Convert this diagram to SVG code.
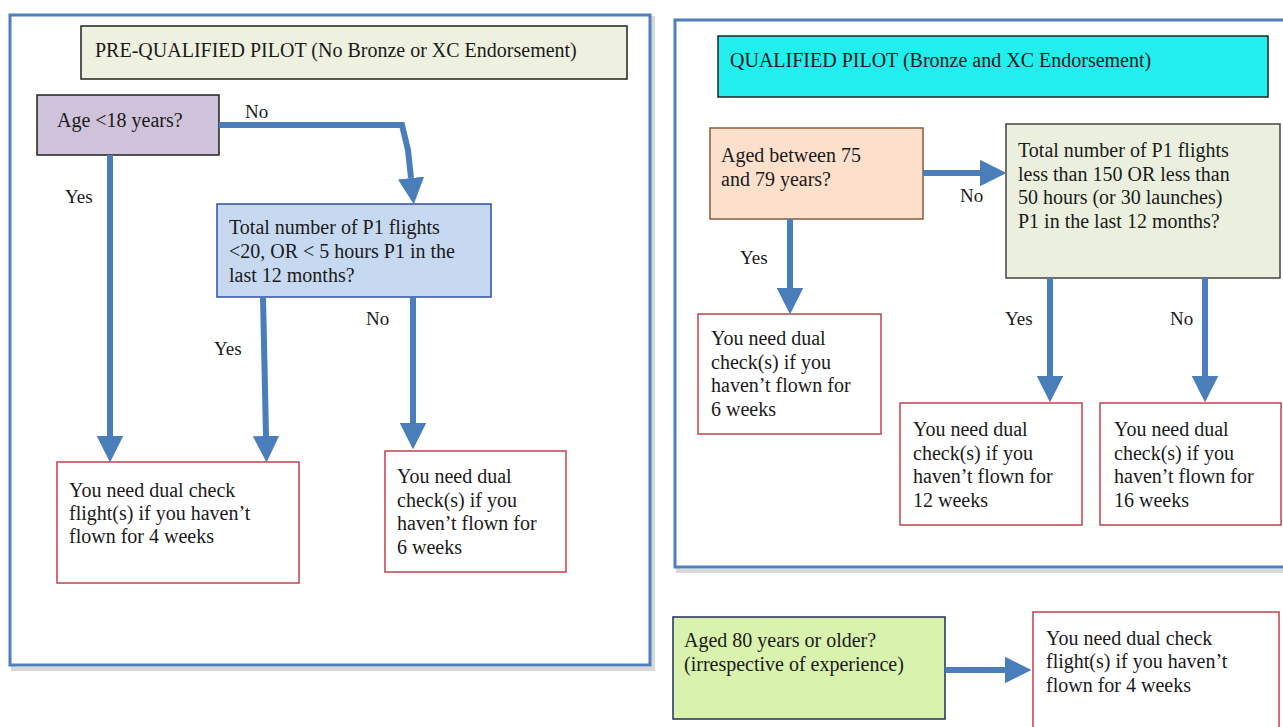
<svg xmlns="http://www.w3.org/2000/svg" width="1283" height="727" viewBox="0 0 1283 727">
<defs>
<style>
text{font-family:"Liberation Serif","Times New Roman",serif;font-size:20px;fill:#1a1a1a}
.frame{fill:#fff;stroke:#4f7fbd;stroke-width:3}
.shadow{fill:none;stroke:#d8d8d8;stroke-width:4}
.res{fill:#fff;stroke:#c0404a;stroke-width:1.5}
.conn{fill:none;stroke:#4a7ebb;stroke-width:6}
.lbl{font-size:19px}
</style>
<marker id="ah" viewBox="0 0 10 10" refX="0" refY="5" markerWidth="4.4" markerHeight="4.4" markerUnits="strokeWidth" orient="auto">
<path d="M0,0 L10,5 L0,10 Z" fill="#4a7ebb"/>
</marker>
</defs>
<rect width="1283" height="727" fill="#fff"/>

<g id="frame-left">
<rect class="shadow" x="13" y="18" width="640" height="651"/>
<rect class="frame" x="10" y="15" width="640" height="650"/>
</g>
<g id="frame-right">
<rect class="shadow" x="678" y="23" width="620" height="548"/>
<rect class="frame" x="675" y="20" width="620" height="547"/>
</g>

<g id="title-left">
<rect x="81" y="26" width="546" height="53" fill="#eef1df" stroke="#222" stroke-width="1.5"/>
<text x="95" y="57">PRE-QUALIFIED PILOT (No Bronze or XC Endorsement)</text>
</g>
<g id="age18">
<rect x="37" y="95" width="182" height="60" fill="#cfc3db" stroke="#222" stroke-width="1.5"/>
<text x="57" y="127">Age &lt;18 years?</text>
</g>
<g id="p1-left">
<rect x="217" y="204" width="274" height="93" fill="#c6d9f1" stroke="#2f4fa8" stroke-width="1.5"/>
<text x="229" y="234">Total number of P1 flights</text>
<text x="229" y="258">&lt;20, OR &lt; 5 hours P1 in the</text>
<text x="229" y="282">last 12 months?</text>
</g>
<g id="res-4w">
<rect class="res" x="57" y="462" width="242" height="121"/>
<text x="69" y="497">You need dual check</text>
<text x="69" y="520">flight(s) if you haven’t</text>
<text x="69" y="543">flown for 4 weeks</text>
</g>
<g id="res-6w-left">
<rect class="res" x="385" y="451" width="181" height="121"/>
<text x="397" y="483">You need dual</text>
<text x="397" y="507">check(s) if you</text>
<text x="397" y="530">haven’t flown for</text>
<text x="397" y="554">6 weeks</text>
</g>

<g id="title-right">
<rect x="718" y="36" width="550" height="61" fill="#22eeee" stroke="#222" stroke-width="1.5"/>
<text x="730" y="67">QUALIFIED PILOT (Bronze and XC Endorsement)</text>
</g>
<g id="age75">
<rect x="710" y="128" width="213" height="91" fill="#fce0cc" stroke="#8a5a3a" stroke-width="1.5"/>
<text x="721" y="162">Aged between 75</text>
<text x="721" y="186">and 79 years?</text>
</g>
<g id="p1-right">
<rect x="1006" y="124" width="274" height="154" fill="#ebf0de" stroke="#444" stroke-width="1.5"/>
<text x="1018" y="157">Total number of P1 flights</text>
<text x="1018" y="181">less than 150 OR less than</text>
<text x="1018" y="204">50 hours (or 30 launches)</text>
<text x="1018" y="228">P1 in the last 12 months?</text>
</g>
<g id="res-6w-right">
<rect class="res" x="698" y="314" width="183" height="120"/>
<text x="711" y="345">You need dual</text>
<text x="711" y="369">check(s) if you</text>
<text x="711" y="392">haven’t flown for</text>
<text x="711" y="416">6 weeks</text>
</g>
<g id="res-12w">
<rect class="res" x="900" y="403" width="182" height="122"/>
<text x="913" y="436">You need dual</text>
<text x="913" y="460">check(s) if you</text>
<text x="913" y="483">haven’t flown for</text>
<text x="913" y="507">12 weeks</text>
</g>
<g id="res-16w">
<rect class="res" x="1100" y="403" width="181" height="122"/>
<text x="1114" y="436">You need dual</text>
<text x="1114" y="460">check(s) if you</text>
<text x="1114" y="483">haven’t flown for</text>
<text x="1114" y="507">16 weeks</text>
</g>

<g id="age80">
<rect x="673" y="617" width="272" height="102" fill="#d9f2ad" stroke="#1f2f5a" stroke-width="1.5"/>
<text x="684" y="647">Aged 80 years or older?</text>
<text x="684" y="671">(irrespective of experience)</text>
</g>
<g id="res-4w-right">
<rect class="res" x="1033" y="612" width="246" height="120"/>
<text x="1046" y="645">You need dual check</text>
<text x="1046" y="668">flight(s) if you haven’t</text>
<text x="1046" y="692">flown for 4 weeks</text>
</g>

<g id="connectors">
<path class="conn" d="M219,125 L402,125 L408,150 L411,178" marker-end="url(#ah)"/>
<path class="conn" d="M110,155 L110,436" marker-end="url(#ah)"/>
<path class="conn" d="M263,297 L266,436" marker-end="url(#ah)"/>
<path class="conn" d="M413,297 L413,423" marker-end="url(#ah)"/>
<path class="conn" d="M923,173 L980,173" marker-end="url(#ah)"/>
<path class="conn" d="M790,219 L790,288" marker-end="url(#ah)"/>
<path class="conn" d="M1050,278 L1050,376" marker-end="url(#ah)"/>
<path class="conn" d="M1205,278 L1205,376" marker-end="url(#ah)"/>
<path class="conn" d="M945,670 L1005,670" marker-end="url(#ah)"/>
<text class="lbl" x="245" y="118">No</text>
<text class="lbl" x="65" y="203">Yes</text>
<text class="lbl" x="214" y="355">Yes</text>
<text class="lbl" x="366" y="325">No</text>
<text class="lbl" x="960" y="202">No</text>
<text class="lbl" x="740" y="264">Yes</text>
<text class="lbl" x="1005" y="325">Yes</text>
<text class="lbl" x="1170" y="325">No</text>
</g>
</svg>
